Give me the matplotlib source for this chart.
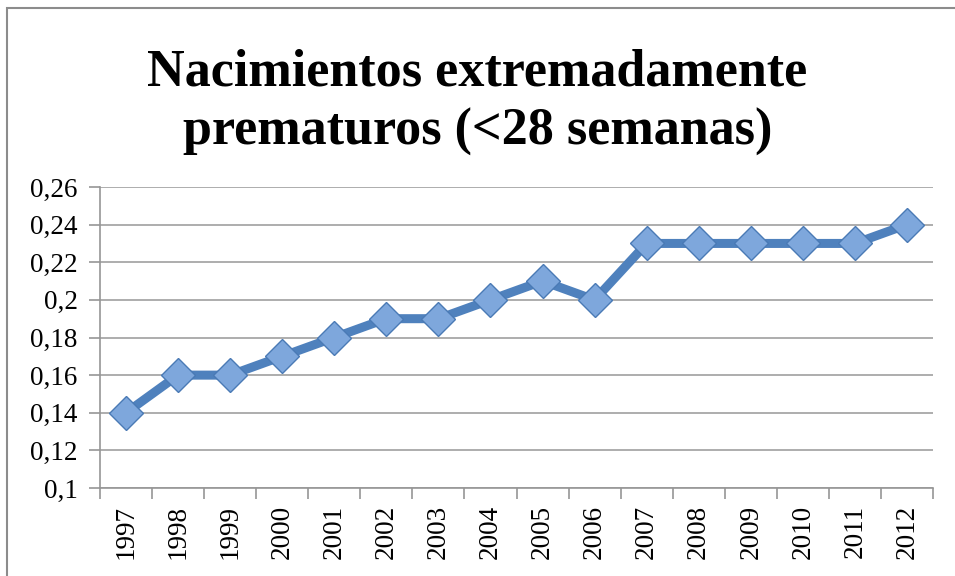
import matplotlib.pyplot as plt
from matplotlib.patches import Rectangle

years = ["1997", "1998", "1999", "2000", "2001", "2002", "2003", "2004",
         "2005", "2006", "2007", "2008", "2009", "2010", "2011", "2012"]
values = [0.14, 0.16, 0.16, 0.17, 0.18, 0.19, 0.19, 0.20,
          0.21, 0.20, 0.23, 0.23, 0.23, 0.23, 0.23, 0.24]
yticks = [0.10, 0.12, 0.14, 0.16, 0.18, 0.20, 0.22, 0.24, 0.26]
ytick_labels = ["0,1", "0,12", "0,14", "0,16", "0,18", "0,2", "0,22", "0,24", "0,26"]

W, H = 955, 576
fig = plt.figure(figsize=(W / 100, H / 100), dpi=100)

# chart frame (cut off at right and bottom, like the screenshot)
fig.patches.append(Rectangle((7 / W, -0.1), 1.1, (H - 8) / H + 0.1,
                             transform=fig.transFigure, fill=False,
                             edgecolor="#8c8c8c", linewidth=1.5))

ax = fig.add_axes([100 / W, 1 - 488 / H, 833 / W, (488 - 187) / H])
x = range(len(years))
ax.plot(x, values, color="#4f81bd", linewidth=6.5, solid_joinstyle="miter",
        marker="D", markersize=17, markerfacecolor="#7ea7dc",
        markeredgecolor="#4a7ab5", markeredgewidth=1, zorder=3)

ax.set_xlim(-0.5, len(years) - 0.5)
ax.set_ylim(0.10, 0.26)
ax.set_yticks(yticks)
ax.set_yticklabels(ytick_labels, family="Liberation Serif", fontsize=19.5)
ax.set_xticks([i - 0.5 for i in range(len(years) + 1)], minor=False)
ax.set_xticklabels([])
ax.set_xticks(list(x), minor=True)
ax.set_xticklabels(years, minor=True, rotation=90, family="Liberation Serif",
                   fontsize=19.5)
ax.tick_params(axis="x", which="minor", length=0, pad=12)
ax.tick_params(axis="x", which="major", length=8, color="#969696", width=1.2)
ax.tick_params(axis="y", length=8, color="#969696", width=1.2, pad=8)
ax.grid(axis="y", color="#a0a0a0", linewidth=1.2)
ax.set_axisbelow(True)
for s in ["top", "right"]:
    ax.spines[s].set_visible(False)
for s in ["left", "bottom"]:
    ax.spines[s].set_color("#969696")
    ax.spines[s].set_linewidth(1.2)

fig.text(0.5, 1 - 102 / H, "Nacimientos extremadamente\nprematuros (<28 semanas)",
         ha="center", va="center", family="Liberation Serif", weight="bold",
         fontsize=37.5, linespacing=1.3)

fig.savefig("out.png", dpi=100)
